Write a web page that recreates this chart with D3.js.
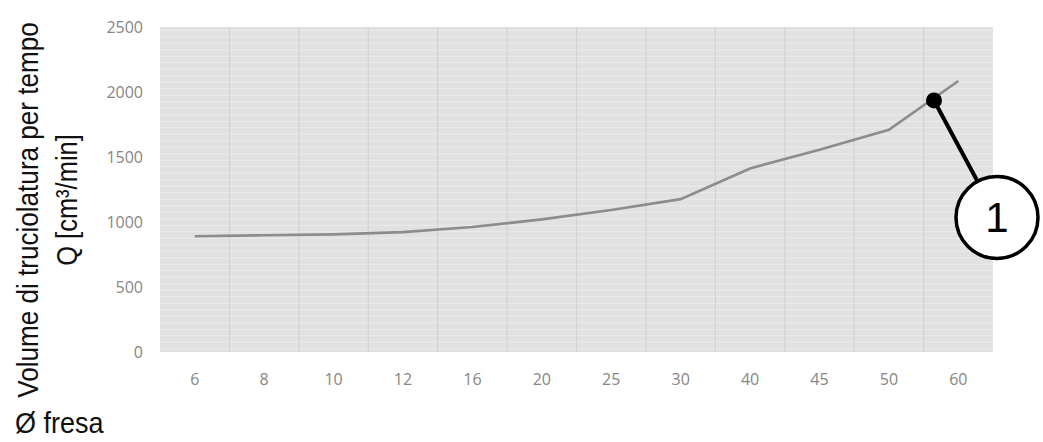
<html>
<head>
  <meta charset="utf-8">
  <style>
    body { margin: 0; background: #fff; }
    svg { display: block; }
    .tick text { font-family: "Open Sans", sans-serif; font-size: 16px; fill: #868686; }
    .title { font-family: "Liberation Sans", Arial, sans-serif; font-size: 30px; fill: #111; }
  </style>
</head>
<body>
  <svg id="container" width="1043" height="442"></svg>
  <script src="https://cdn.jsdelivr.net/npm/d3@7"></script>
  <script>
    // data
    const diameters = ["6", "8", "10", "12", "16", "20", "25", "30", "40", "45", "50", "60"]
    const volumes = [890, 898, 905, 922, 962, 1020, 1092, 1176, 1412, 1556, 1710, 2085]
    const yTicks = [0, 500, 1000, 1500, 2000, 2500]
    // marker "1": sits between 50 and 60 on the curve
    const markerValue = 1935
    const markerFrac = 0.65

    let svg = d3.select("#container")
    let plotLeft = 160, plotRight = 993, plotTop = 27, plotBottom = 352

    let xScale = d3.scaleBand()
      .domain(diameters)
      .range([plotLeft, plotRight])

    let yScale = d3.scaleLinear()
      .domain([0, 2500])
      .range([plotBottom, plotTop])

    // plot background
    svg.append("rect")
      .attr("x", plotLeft).attr("y", plotTop)
      .attr("width", plotRight - plotLeft).attr("height", plotBottom - plotTop)
      .attr("fill", "#e1e1e1")

    // faint horizontal streaks (minor grid)
    svg.append("g")
      .selectAll("line")
      .data(d3.range(25, 2500, 50))
      .join("line")
      .attr("x1", plotLeft).attr("x2", plotRight)
      .attr("y1", d => yScale(d)).attr("y2", d => yScale(d))
      .attr("stroke", "#ebebeb")
      .attr("stroke-width", 1)

    // vertical grid at category boundaries
    svg.append("g")
      .selectAll("line")
      .data(diameters.slice(1))
      .join("line")
      .attr("x1", d => xScale(d)).attr("x2", d => xScale(d))
      .attr("y1", plotTop).attr("y2", plotBottom)
      .attr("stroke", "#d3d3d3")
      .attr("stroke-width", 1.2)

    // axes (labels only)
    let yAxis = svg.append("g")
      .attr("transform", "translate(" + (plotLeft - 17) + ",0)")
      .call(d3.axisLeft(yScale).tickValues(yTicks).tickFormat(d3.format("d")).tickSize(0).tickPadding(0))
    yAxis.select(".domain").remove()

    let xAxis = svg.append("g")
      .attr("transform", "translate(0," + (plotBottom + 22) + ")")
      .call(d3.axisBottom(xScale).tickSize(0).tickPadding(0))
    xAxis.select(".domain").remove()

    // the curve
    let data = diameters.map((d, i) => ({ d: d, v: volumes[i] }))
    let valueLine = d3.line()
      .x(d => xScale(d.d) + xScale.bandwidth() / 2)
      .y(d => yScale(d.v))

    svg.append("path")
      .datum(data)
      .attr("d", valueLine)
      .attr("fill", "none")
      .attr("stroke", "#8c8c8c")
      .attr("stroke-width", 2.6)

    // callout
    let mx = xScale("50") + xScale.bandwidth() / 2 + markerFrac * xScale.step()
    let my = yScale(markerValue)
    let cx = mx + 63, cy = my + 117

    svg.append("line")
      .attr("x1", mx).attr("y1", my)
      .attr("x2", cx).attr("y2", cy)
      .attr("stroke", "#000").attr("stroke-width", 4)
    svg.append("circle")
      .attr("cx", mx).attr("cy", my).attr("r", 8)
      .attr("fill", "#000")
    svg.append("circle")
      .attr("cx", cx).attr("cy", cy).attr("r", 41)
      .attr("fill", "#fff").attr("stroke", "#000").attr("stroke-width", 3.5)
    svg.append("text")
      .attr("x", cx).attr("y", cy + 15)
      .attr("text-anchor", "middle")
      .attr("font-family", "Liberation Sans, Arial, sans-serif")
      .attr("font-size", 42)
      .text("1")

    // axis titles (narrowed with a scale, the source font is condensed)
    svg.append("text")
      .attr("class", "title")
      .attr("transform", "translate(38,210) rotate(-90) scale(0.87,1)")
      .attr("text-anchor", "middle")
      .text("Volume di truciolatura per tempo")

    svg.append("text")
      .attr("class", "title")
      .attr("transform", "translate(77,200) rotate(-90) scale(0.85,1)")
      .attr("text-anchor", "middle")
      .text("Q [cm³/min]")

    svg.append("text")
      .attr("class", "title")
      .attr("transform", "translate(15,433) scale(0.9,1)")
      .text("Ø fresa")
  </script>
</body>
</html>
